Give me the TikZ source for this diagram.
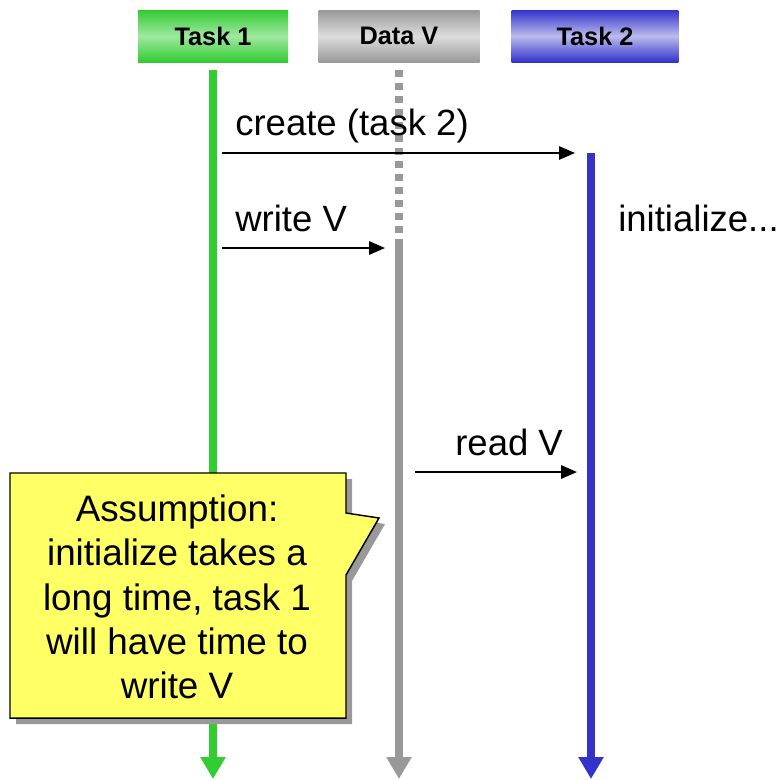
\documentclass[tikz,border=0pt]{standalone}
\usepackage{fontspec}
\setmainfont{Liberation Sans}
\usetikzlibrary{arrows.meta}
\definecolor{tgreen}{HTML}{33CC33}
\definecolor{tgreenl}{HTML}{A0E8A0}
\definecolor{tgray}{HTML}{999999}
\definecolor{tgrayl}{HTML}{DDDDDD}
\definecolor{tblue}{HTML}{3333CC}
\definecolor{tbluel}{HTML}{BBBBEE}
\definecolor{note}{HTML}{FFFF66}
\tikzset{
  header/.style={minimum height=39pt, inner sep=0pt, font=\fontsize{19}{22}\selectfont\bfseries},
  life/.style={line width=6pt, -{Triangle[length=16.5pt,width=18pt]}},
  msg/.style={line width=1.4pt, -{Triangle[length=12pt,width=10pt]}},
  lbl/.style={anchor=base west, inner sep=0pt, font=\fontsize{27.4}{33}\selectfont},
}
\begin{document}
\begin{tikzpicture}[x=0.75pt,y=-0.75pt]
\useasboundingbox (0,0) rectangle (784,779);
% headers
\node[header, minimum width=112.5pt, top color=tgreen, bottom color=tgreen, middle color=tgreenl] (t1) at (213,36) {Task 1};
\node[header, minimum width=120.75pt, top color=tgray, bottom color=tgray, middle color=tgrayl] (dv) at (399,36) {Data V};
\node[header, minimum width=125pt, top color=tblue, bottom color=tblue, middle color=tbluel] (t2) at (595,36) {Task 2};
% lifeline coordinates
\coordinate (g0) at (213,70);
\coordinate (g1) at (213,779);
\coordinate (d0) at (399,70);
\coordinate (dm) at (399,246);
\coordinate (d1) at (399,779);
\coordinate (b0) at (591,153);
\coordinate (b1) at (591,779);
\draw[life, tgreen] (g0) -- (g1);
\draw[line width=6pt, tgray, dash pattern=on 5.25pt off 4.5pt] (d0) -- (dm);
\draw[life, tgray] (dm) -- (d1);
\draw[life, tblue] (b0) -- (b1);
% messages
\coordinate (m1s) at (222,153);
\coordinate (m1e) at (575,153);
\coordinate (m2s) at (222,248);
\coordinate (m2e) at (385,248);
\coordinate (m3s) at (415,472);
\coordinate (m3e) at (577,472);
\draw[msg] (m1s) -- (m1e);
\draw[msg] (m2s) -- (m2e);
\draw[msg] (m3s) -- (m3e);
\node[lbl] (l1) at (235,135) {create (task 2)};
\node[lbl] (l2) at (235,231) {write V};
\node[lbl] (l3) at (618,231) {initialize...};
\node[lbl] (l4) at (455,455) {read V};
% callout
\fill[tgray] (16,479) -- (352,479) -- (352,519) -- (385,524) -- (352,581) -- (352,724) -- (16,724) -- cycle;
\draw[fill=note, line width=1.1pt] (10,473) -- (346,473) -- (346,513) -- (379,518) -- (346,575) -- (346,718) -- (10,718) -- cycle;
\node[align=center, inner sep=0pt, font=\fontsize{27.6}{33.2}\selectfont] (note) at (177,597)
  {Assumption:\\initialize takes a\\long time, task 1\\will have time to\\write V};
\end{tikzpicture}
\end{document}
